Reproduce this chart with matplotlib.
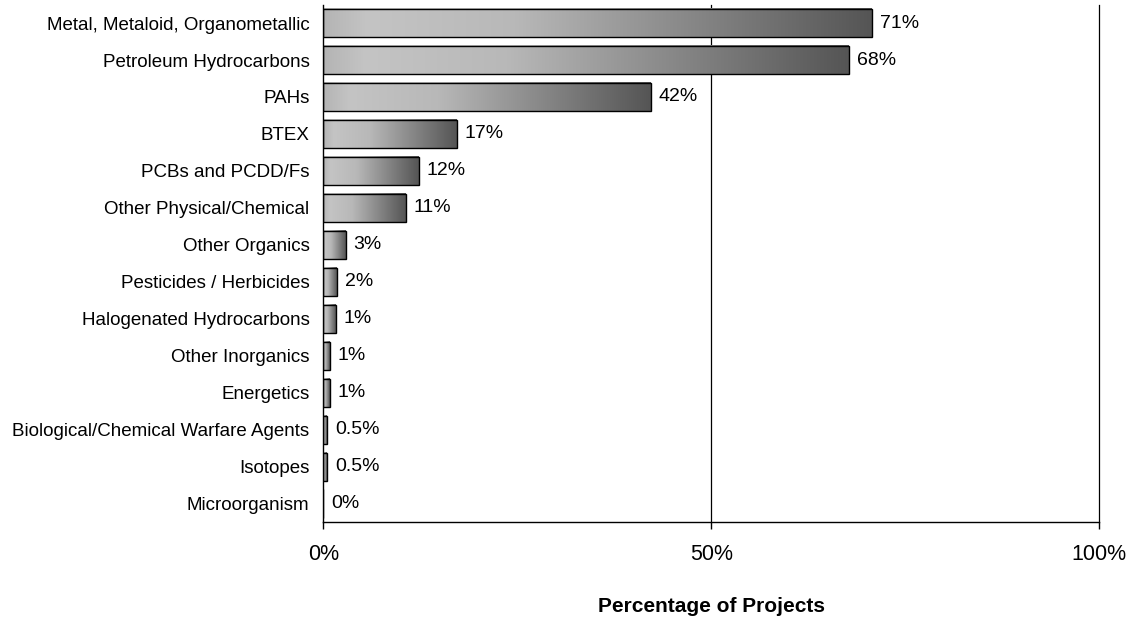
import numpy as np
import matplotlib.pyplot as plt
from matplotlib.colors import LinearSegmentedColormap

plt.rcParams['font.family'] = ['Liberation Sans', 'DejaVu Sans']

# Contaminant categories (top to bottom) and share of projects (%)
categories = [
    'Metal, Metaloid, Organometallic',
    'Petroleum Hydrocarbons',
    'PAHs',
    'BTEX',
    'PCBs and PCDD/Fs',
    'Other Physical/Chemical',
    'Other Organics',
    'Pesticides / Herbicides',
    'Halogenated Hydrocarbons',
    'Other Inorganics',
    'Energetics',
    'Biological/Chemical Warfare Agents',
    'Isotopes',
    'Microorganism',
]
values = [70.7, 67.8, 42.2, 17.2, 12.3, 10.6, 2.9, 1.8, 1.6, 0.8, 0.8, 0.5, 0.5, 0.0]
value_labels = ['71%', '68%', '42%', '17%', '12%', '11%', '3%', '2%', '1%', '1%', '1%',
                '0.5%', '0.5%', '0%']
x_ticks = [0, 50, 100]
x_tick_labels = ['0%', '50%', '100%']


def main():
    fig = plt.figure(figsize=(11.33, 6.17), dpi=100)
    ax = fig.add_axes([0.2854, 0.154, 0.6846, 0.8386])

    y = np.arange(len(categories))
    bars = ax.barh(y, values, height=0.76, color='none', edgecolor='black',
                   linewidth=1.0, zorder=3)

    # grey gradient fill, light on the left, dark on the right of each bar
    cmap = LinearSegmentedColormap.from_list(
        'bargrad', [(0.0, '#b4b4b4'), (0.08, '#c4c4c4'), (0.35, '#b8b8b8'),
                    (1.0, '#555555')])
    grad = np.linspace(0, 1, 256).reshape(1, -1)
    for bar in bars:
        w = bar.get_width()
        if w <= 0:
            continue
        x0, y0 = bar.get_x(), bar.get_y()
        h = bar.get_height()
        ax.imshow(grad, extent=[x0, x0 + w, y0 + h, y0], cmap=cmap,
                  aspect='auto', interpolation='bicubic', zorder=2)

    for yi, v, lab in zip(y, values, value_labels):
        ax.text(v + 1.0, yi, lab, va='center', ha='left', fontsize=14, zorder=4)

    ax.set_xlim(0, 100)
    ax.set_ylim(len(categories) - 0.5, -0.5)
    ax.set_yticks(y)
    ax.set_yticklabels(categories, fontsize=13.5)
    ax.tick_params(axis='y', length=0, pad=10)
    ax.set_xticks(x_ticks)
    ax.set_xticklabels(x_tick_labels, fontsize=15.5)
    ax.tick_params(axis='x', direction='out', length=5, width=1, pad=11)

    # vertical gridlines, incl. the one at 100% that sits on the axes edge
    for xt in x_ticks[1:]:
        ax.axvline(xt, color='black', linewidth=0.9, zorder=1, clip_on=False)
    for side in ['top', 'right']:
        ax.spines[side].set_visible(False)
    ax.spines['left'].set_linewidth(1)
    ax.spines['bottom'].set_linewidth(1)

    ax.set_xlabel('Percentage of Projects', fontsize=15, fontweight='bold')
    ax.xaxis.set_label_coords(0.5, -0.163)
    ax.xaxis.label.set_verticalalignment('center')

    fig.savefig('out.png', dpi=100)


if __name__ == "__main__":
    main()
